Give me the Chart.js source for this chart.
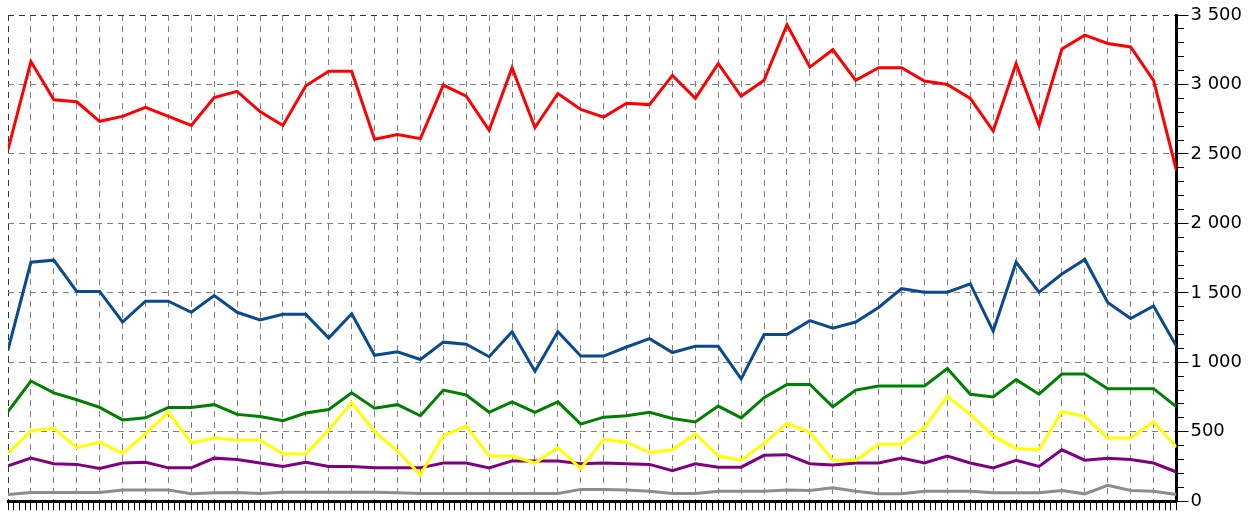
<!DOCTYPE html>
<html>
<head>
<meta charset="utf-8">
<script src="https://cdn.jsdelivr.net/npm/chart.js@4.4.1/dist/chart.umd.min.js"></script>
<style>
  html, body { margin: 0; padding: 0; background: #fff; }
  #wrap { width: 1254px; height: 514px; }
</style>
</head>
<body>
<div id="wrap"><canvas id="chart" width="1254" height="514"></canvas></div>
<script>
// Values, one per vertical grid line (52 points)
const red = [2530, 3165, 2890, 2875, 2735, 2770, 2835, 2770, 2705, 2905, 2950, 2805, 2705, 2990, 3095, 3095, 2605, 2640,
  2610, 2995, 2915, 2670, 3120, 2690, 2935, 2820, 2765, 2865, 2855, 3065, 2900, 3150, 2915, 3030,
  3430, 3125, 3250, 3030, 3120, 3120, 3025, 3000, 2900, 2665, 3150, 2705, 3255, 3355, 3295, 3270, 3030, 2380];
const blue = [1090, 1720, 1735, 1510, 1510, 1290, 1440, 1440, 1360, 1480, 1360, 1305, 1345, 1345, 1175, 1350, 1050, 1075,
  1020, 1145, 1130, 1040, 1220, 935, 1220, 1045, 1045, 1110, 1170, 1070, 1115, 1115, 880, 1200,
  1200, 1300, 1245, 1290, 1395, 1530, 1505, 1505, 1565, 1225, 1720, 1505, 1635, 1740, 1430, 1315, 1405, 1115];
const green = [645, 865, 780, 730, 675, 585, 600, 675, 675, 695, 625, 610, 580, 635, 660, 780, 670, 695,
  615, 800, 765, 640, 715, 640, 715, 555, 605, 615, 640, 595, 570, 685, 600, 745,
  840, 840, 680, 800, 830, 830, 830, 955, 770, 750, 875, 770, 915, 915, 810, 810, 810, 680];
const yellow = [345, 505, 525, 385, 425, 345, 485, 640, 420, 455, 440, 440, 340, 340, 515, 710, 500, 360,
  190, 470, 540, 325, 325, 275, 385, 235, 445, 425, 350, 370, 485, 325, 295, 415,
  560, 495, 295, 295, 410, 410, 530, 755, 625, 470, 380, 370, 645, 610, 455, 455, 570, 390];
const purple = [255, 310, 270, 265, 235, 275, 280, 240, 240, 310, 300, 275, 250, 280, 250, 250, 240, 240,
  240, 275, 275, 240, 290, 290, 290, 270, 275, 270, 265, 220, 270, 245, 245, 330,
  335, 270, 260, 275, 275, 310, 275, 325, 275, 240, 295, 250, 370, 295, 310, 300, 275, 210];
const gray = [48, 62, 62, 62, 62, 80, 80, 80, 53, 60, 62, 55, 65, 65, 65, 65, 65, 60,
  55, 55, 55, 55, 55, 55, 55, 85, 85, 80, 72, 55, 55, 72, 72, 72,
  80, 77, 96, 72, 53, 53, 72, 72, 72, 60, 60, 60, 77, 53, 115, 77, 72, 48];

const yTickLabels = ['0', '500', '1 000', '1 500', '2 000', '2 500', '3 000', '3 500'];

function toPoints(values) {
  return values.map((v, i) => ({ x: i, y: v }));
}

function makeSet(values, color) {
  return {
    data: toPoints(values),
    borderColor: color,
    backgroundColor: color,
    borderWidth: 3,
    pointRadius: 0,
    tension: 0,
    fill: false
  };
}

new Chart(document.getElementById('chart'), {
  type: 'line',
  data: {
    datasets: [
      makeSet(red, '#ff0000'),
      makeSet(blue, '#0a4a8e'),
      makeSet(green, '#008000'),
      makeSet(yellow, '#ffff00'),
      makeSet(purple, '#800080'),
      makeSet(gray, '#8c8c8c')
    ]
  },
  options: {
    responsive: false,
    animation: false,
    layout: { padding: { left: 8, top: 15, right: 10, bottom: 0 } },
    plugins: { legend: { display: false }, tooltip: { enabled: false } },
    scales: {
      x: {
        type: 'linear',
        min: 0,
        max: red.length - 1,
        ticks: { display: false, stepSize: 0.25 },
        grid: {
          color: c => c.tick.value === 0 ? '#333' : (Number.isInteger(c.tick.value) ? '#808080' : 'transparent'),
          tickColor: '#000',
          tickLength: 9,
          tickBorderDash: []
        },
        border: { color: '#000', width: 3, dash: [6, 5] }
      },
      y: {
        position: 'right',
        min: 0,
        max: 3500,
        ticks: {
          stepSize: 100,
          autoSkip: false,
          padding: 2,
          color: '#000',
          font: { family: 'DejaVu Sans', size: 18 },
          callback: v => Math.round(v) % 500 === 0 ? yTickLabels[Math.round(v) / 500] : ''
        },
        grid: {
          color: c => c.tick.value === 3500 ? '#333' : (Math.round(c.tick.value) % 500 === 0 ? '#808080' : 'transparent'),
          tickColor: '#000',
          tickLength: 12,
          tickBorderDash: c => Math.round(c.tick.value) % 500 === 0 ? [] : [6, 20]
        },
        border: { color: '#000', width: 3, dash: [6, 5] }
      }
    }
  }
});
</script>
</body>
</html>
